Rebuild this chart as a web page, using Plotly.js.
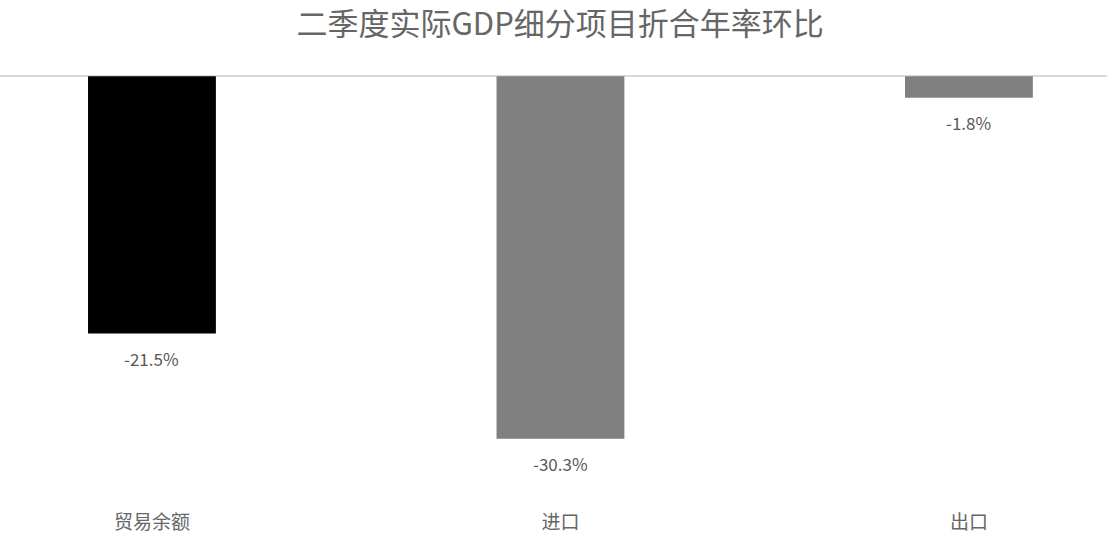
<!DOCTYPE html>
<html>
<head>
<meta charset="utf-8">
<script src="https://cdn.plot.ly/plotly-3.0.1.min.js"></script>
<style>
  html, body { margin: 0; padding: 0; background: #fff; }
  #chart { width: 1107px; height: 542px; }
</style>
</head>
<body>
<div id="chart"></div>
<script>
// data
var categories = ['贸易余额', '进口', '出口'];
var values = [-21.5, -30.3, -1.8];
var barColors = ['#000000', '#808080', '#808080'];
var chartTitle = '二季度实际GDP细分项目折合年率环比';

var textColor = '#595959';
var cjkFont = '"Microsoft YaHei", "Noto Sans CJK SC", sans-serif';

var trace = {
  type: 'bar',
  x: categories,
  y: values,
  marker: { color: barColors, line: { width: 0 } },
  textposition: 'none',
  hoverinfo: 'x+y'
};

// value labels sit a little below each bar end
var labels = [];
for (var i = 0; i < categories.length; i++) {
  labels.push({
    x: categories[i],
    y: values[i],
    xref: 'x', yref: 'y',
    text: values[i].toFixed(1) + '%',
    showarrow: false,
    yanchor: 'middle',
    yshift: -25,
    font: { family: cjkFont, size: 17, color: textColor }
  });
}

var layout = {
  width: 1107,
  height: 542,
  paper_bgcolor: '#ffffff',
  plot_bgcolor: '#ffffff',
  margin: { l: 0, r: 0, t: 75, b: 33 },
  showlegend: false,
  bargap: 0.687,
  title: {
    text: chartTitle,
    font: { family: cjkFont, size: 31, color: '#666666' },
    x: 0.506,
    xanchor: 'center',
    xref: 'container',
    yref: 'container',
    y: 1 - 24 / 542,
    yanchor: 'middle'
  },
  xaxis: {
    type: 'category',
    range: [-0.372, 2.338],
    showgrid: false,
    showline: false,
    zeroline: false,
    ticks: '',
    tickfont: { family: cjkFont, size: 19, color: '#666666' },
    fixedrange: true
  },
  yaxis: {
    range: [-36.16, 0.1],
    showgrid: false,
    showticklabels: false,
    showline: false,
    ticks: '',
    zeroline: true,
    zerolinecolor: '#d9d9d9',
    zerolinewidth: 1.5,
    fixedrange: true
  },
  annotations: labels
};

Plotly.newPlot('chart', [trace], layout, { displayModeBar: false, staticPlot: true });
</script>
</body>
</html>
